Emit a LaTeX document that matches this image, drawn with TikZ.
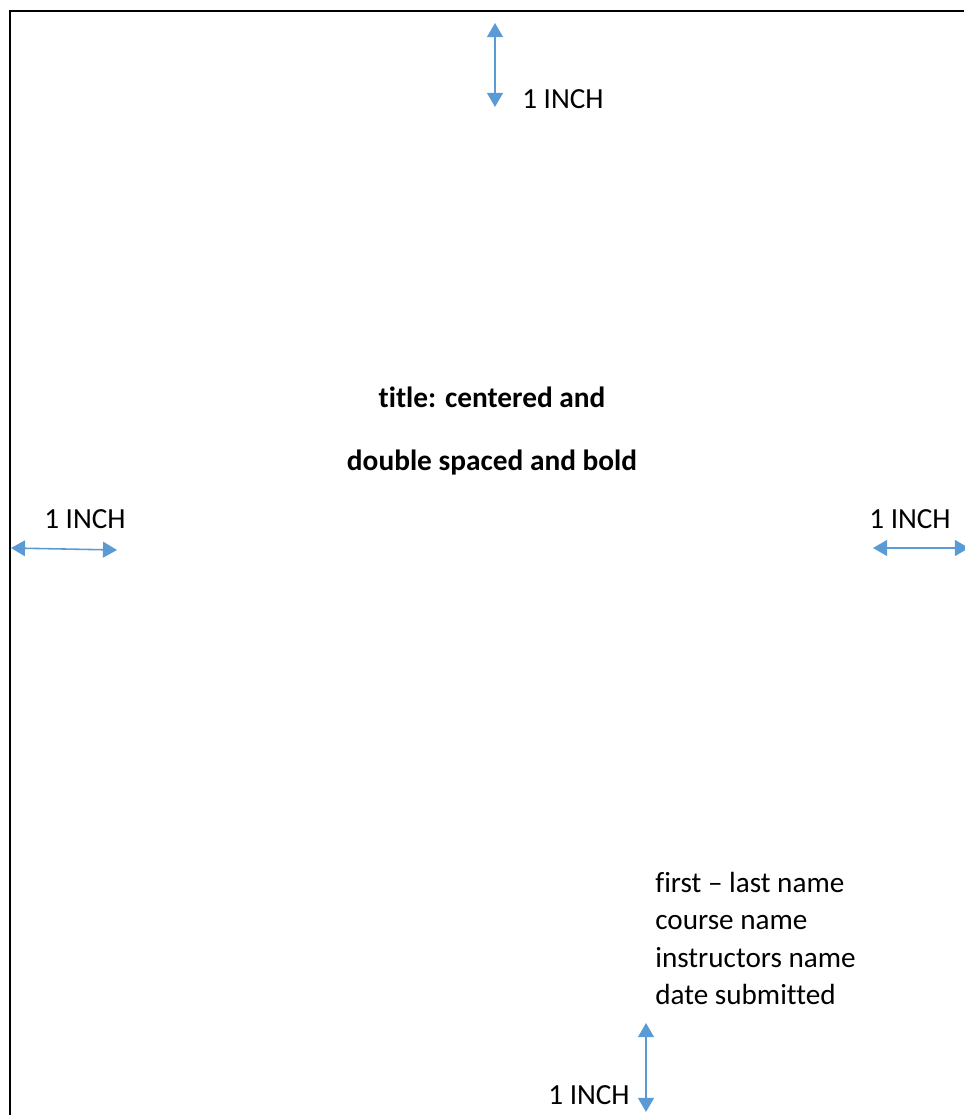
\documentclass[tikz,border=0pt]{standalone}
\usepackage{fontspec}
\setmainfont[Ligatures={NoCommon}]{Carlito}
\usetikzlibrary{arrows.meta}
\definecolor{inchblue}{HTML}{5B9BD5}
\tikzset{
    inch/.style={draw=inchblue, line width=0.9pt, {Triangle[width=9pt,length=8pt]}-{Triangle[width=9pt,length=8pt]}},
    lbl/.style={inner sep=0pt, font=\fontsize{16.6}{20}\selectfont},
    ttl/.style={inner sep=0pt, font=\fontsize{16.7}{20}\selectfont\bfseries},
}
\begin{document}
\begin{tikzpicture}[x=0.02cm, y=-0.02cm]
    \useasboundingbox (0,0) rectangle (964,1115);
    \draw[line width=1.2pt] (10,1115) -- (10,11) -- (964,11); % borde de la hoja
    % flechas de margen
    \coordinate (topA) at (495,23);
    \coordinate (topB) at (495,107);
    \coordinate (leftA) at (11,548);
    \coordinate (leftB) at (117,550);
    \coordinate (rightA) at (873,548);
    \coordinate (rightB) at (969,548);
    \coordinate (botA) at (646,1023);
    \coordinate (botB) at (646,1112);
    \draw[inch] (topA) -- (topB);
    \draw[inch] (leftA) -- (leftB);
    \draw[inch] (rightA) -- (rightB);
    \draw[inch] (botA) -- (botB);
    \node[lbl, anchor=base west] (topL) at (522,109) {1 INCH};
    \node[lbl, anchor=base] (leftL) at (85,528) {1 INCH};
    \node[lbl, anchor=base] (rightL) at (910,528) {1 INCH};
    \node[lbl, anchor=base east] (botL) at (630,1104) {1 INCH};
    % titulo
    \node[ttl, anchor=base] (title1) at (492,407) {title: centered and};
    \node[ttl, anchor=base] (title2) at (492,470) {double spaced and bold};
    % datos del autor
    \node[lbl, anchor=base west] (name1) at (655,892) {first – last name};
    \node[lbl, anchor=base west] (name2) at (655,929.5) {course name};
    \node[lbl, anchor=base west] (name3) at (655,967) {instructors name};
    \node[lbl, anchor=base west] (name4) at (655,1004.5) {date submitted};
\end{tikzpicture}
\end{document}
